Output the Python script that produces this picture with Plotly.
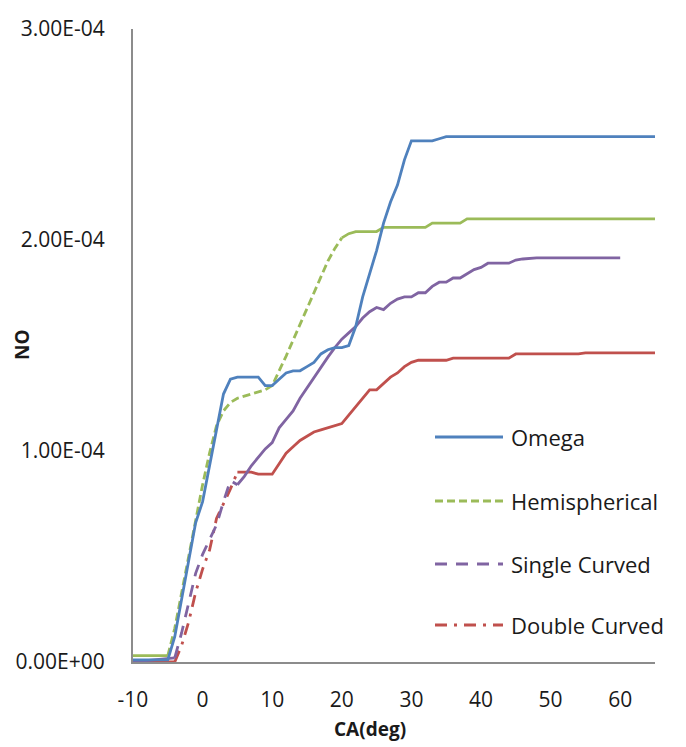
import numpy as np
import plotly.graph_objects as go

# Crank angle (deg) and NO mass fraction (in units of 1e-4) for each piston bowl
omega_ca = [-10, -5, -4, -3, -2, -1, 0, 1, 2, 3, 4, 5, 6, 7, 8, 9, 10, 11, 12, 13, 14, 15,
            16, 17, 18, 19, 20, 21, 22, 23, 24, 25, 26, 27, 28, 29, 30, 31, 32, 33, 34, 35,
            40, 45, 50, 55, 60, 65]
omega_no = [0.01, 0.01, 0.12, 0.30, 0.48, 0.66, 0.76, 0.93, 1.10, 1.27, 1.34, 1.35, 1.35,
            1.35, 1.35, 1.31, 1.31, 1.34, 1.37, 1.38, 1.38, 1.40, 1.42, 1.46, 1.48, 1.49,
            1.49, 1.50, 1.59, 1.73, 1.84, 1.95, 2.08, 2.18, 2.26, 2.38, 2.47, 2.47, 2.47,
            2.47, 2.48, 2.49, 2.49, 2.49, 2.49, 2.49, 2.49, 2.49]

hemi_ca = [-10, -5, -4, -3, -2, -1, 0, 1, 2, 3, 4, 5, 6, 7, 8, 9, 10, 12, 14, 16, 18, 19,
           20, 21, 22, 25, 26, 32, 33, 37, 38, 65]
hemi_no = [0.03, 0.03, 0.16, 0.33, 0.50, 0.68, 0.84, 0.99, 1.12, 1.19, 1.23, 1.25, 1.26,
           1.27, 1.28, 1.29, 1.31, 1.45, 1.60, 1.75, 1.90, 1.96, 2.01, 2.03, 2.04, 2.04,
           2.06, 2.06, 2.08, 2.08, 2.10, 2.10]

single_ca = [-10, -4, -3, -2, -1, 0, 1, 2, 3, 4, 5, 6, 7, 8, 9, 10, 11, 12, 13, 14, 15, 16,
             17, 18, 19, 20, 21, 22, 23, 24, 25, 26, 27, 28, 29, 30, 31, 32, 33, 34, 35, 36,
             37, 38, 39, 40, 41, 42, 44, 45, 46, 48, 50, 55, 60]
single_no = [0.00, 0.02, 0.14, 0.28, 0.42, 0.51, 0.58, 0.65, 0.76, 0.86, 0.84, 0.88, 0.93,
             0.97, 1.01, 1.04, 1.11, 1.15, 1.19, 1.25, 1.30, 1.35, 1.40, 1.445, 1.49, 1.53,
             1.56, 1.59, 1.63, 1.66, 1.68, 1.67, 1.70, 1.72, 1.73, 1.73, 1.75, 1.75, 1.78,
             1.80, 1.80, 1.82, 1.82, 1.84, 1.86, 1.87, 1.89, 1.89, 1.89, 1.905, 1.91, 1.915,
             1.915, 1.915, 1.915]

double_ca = [-10, -4, -3, -2, -1, 0, 1, 2, 3, 4, 5, 6, 7, 8, 9, 10, 11, 12, 13, 14, 15, 16,
             17, 18, 19, 20, 21, 22, 23, 24, 25, 26, 27, 28, 29, 30, 31, 32, 35, 36, 44, 45,
             54, 55, 65]
double_no = [0.00, 0.00, 0.08, 0.19, 0.33, 0.44, 0.53, 0.68, 0.75, 0.82, 0.90, 0.90, 0.90,
             0.89, 0.89, 0.89, 0.94, 0.99, 1.02, 1.05, 1.07, 1.09, 1.10, 1.11, 1.12, 1.13,
             1.17, 1.21, 1.25, 1.29, 1.29, 1.32, 1.35, 1.37, 1.40, 1.42, 1.43, 1.43, 1.43,
             1.44, 1.44, 1.46, 1.46, 1.465, 1.465]

series_names = ["Omega", "Hemispherical", "Single Curved", "Double Curved"]
y_tick_vals = [0, 1e-4, 2e-4, 3e-4]
y_tick_text = ["0.00E+00", "1.00E-04", "2.00E-04", "3.00E-04"]
x_tick_vals = [-10, 0, 10, 20, 30, 40, 50, 60]
x_tick_text = ["-10", "0", "10", "20", "30", "40", "50", "60"]

NO_UNIT = 1e-4

BLUE = "#4F81BD"
GREEN = "#9BBB59"
PURPLE = "#8064A2"
RED = "#C0504D"

HEMI_DASH = "8px,4px"
SINGLE_DASH = "12px,9px"
DOUBLE_DASH = "12px,7px,3px,7px"

# (ca, no, colour, legend dash, [(ca_from, ca_to, dash), ...])
series = [
    (omega_ca, omega_no, BLUE, "solid", [(-10, 65, "solid")]),
    (hemi_ca, hemi_no, GREEN, HEMI_DASH,
     [(-10, -5, "solid"), (-5, 20, HEMI_DASH), (20, 65, "solid")]),
    (single_ca, single_no, PURPLE, SINGLE_DASH,
     [(-10, -4, "solid"), (-4, 5, SINGLE_DASH), (5, 65, "solid")]),
    (double_ca, double_no, RED, DOUBLE_DASH,
     [(-10, -4, "solid"), (-4, 5, DOUBLE_DASH), (5, 65, "solid")]),
]

fig = go.Figure()

# Draw each curve piecewise so the sparse early part keeps its dash pattern
# while the densely sampled part renders solid.
for (ca, no, colour, _, pieces), name in zip(series[::-1], series_names[::-1]):
    ca_arr = np.array(ca, dtype=float)
    no_arr = np.array(no, dtype=float) * NO_UNIT
    for lo, hi, dash in pieces:
        mask = (ca_arr >= lo) & (ca_arr <= hi)
        fig.add_trace(go.Scatter(
            x=ca_arr[mask], y=no_arr[mask], mode="lines", name=name,
            line=dict(color=colour, width=2.8, dash=dash),
            showlegend=False, hoverinfo="skip",
        ))

# Plot-area geometry in pixels, used to place the legend and axis titles
W, H = 686, 747
L, R, T, B = 133, 31, 29, 85
PW, PH = W - L - R, H - T - B


def px_x(px):
    return (px - L) / PW


def px_y(py):
    return (H - B - py) / PH


TEXT = "#1a1a1a"
FONT = "Open Sans"

legend_rows = [437, 501, 564, 625]
shapes = []
annotations = []
for (ca, no, colour, dash, _), name, row in zip(series, series_names, legend_rows):
    shapes.append(dict(
        type="line", xref="paper", yref="paper",
        x0=px_x(435), x1=px_x(503), y0=px_y(row), y1=px_y(row),
        line=dict(color=colour, width=3, dash=dash),
    ))
    annotations.append(dict(
        text=name, xref="paper", yref="paper", x=px_x(509), y=px_y(row),
        xanchor="left", yanchor="middle", showarrow=False,
        font=dict(family=FONT, size=22, color=TEXT),
    ))

annotations.append(dict(
    text="<b>NO</b>", xref="paper", yref="paper", x=px_x(22), y=px_y(345),
    xanchor="center", yanchor="middle", textangle=-90, showarrow=False,
    font=dict(family=FONT, size=19, color=TEXT),
))
annotations.append(dict(
    text="<b>CA(deg)</b>", xref="paper", yref="paper", x=px_x(370), y=px_y(729),
    xanchor="center", yanchor="middle", showarrow=False,
    font=dict(family=FONT, size=19, color=TEXT),
))

axis_font = dict(family=FONT, size=21, color=TEXT)

fig.update_layout(
    width=W, height=H,
    margin=dict(l=L, r=R, t=T, b=B),
    paper_bgcolor="white", plot_bgcolor="white",
    showlegend=False,
    shapes=shapes,
    annotations=annotations,
    xaxis=dict(
        range=[-10, 65], tickvals=x_tick_vals, ticktext=x_tick_text,
        showgrid=False, zeroline=False,
        showline=True, linecolor="#8c8c8c", linewidth=2,
        ticks="outside", ticklen=18, tickcolor="rgba(0,0,0,0)",
        tickfont=axis_font,
    ),
    yaxis=dict(
        range=[0, 3e-4], tickvals=y_tick_vals, ticktext=y_tick_text,
        showgrid=False, zeroline=False,
        showline=True, linecolor="#8c8c8c", linewidth=2,
        ticks="outside", ticklen=22, tickcolor="rgba(0,0,0,0)",
        tickfont=axis_font,
    ),
)

fig.write_html("out.html")
